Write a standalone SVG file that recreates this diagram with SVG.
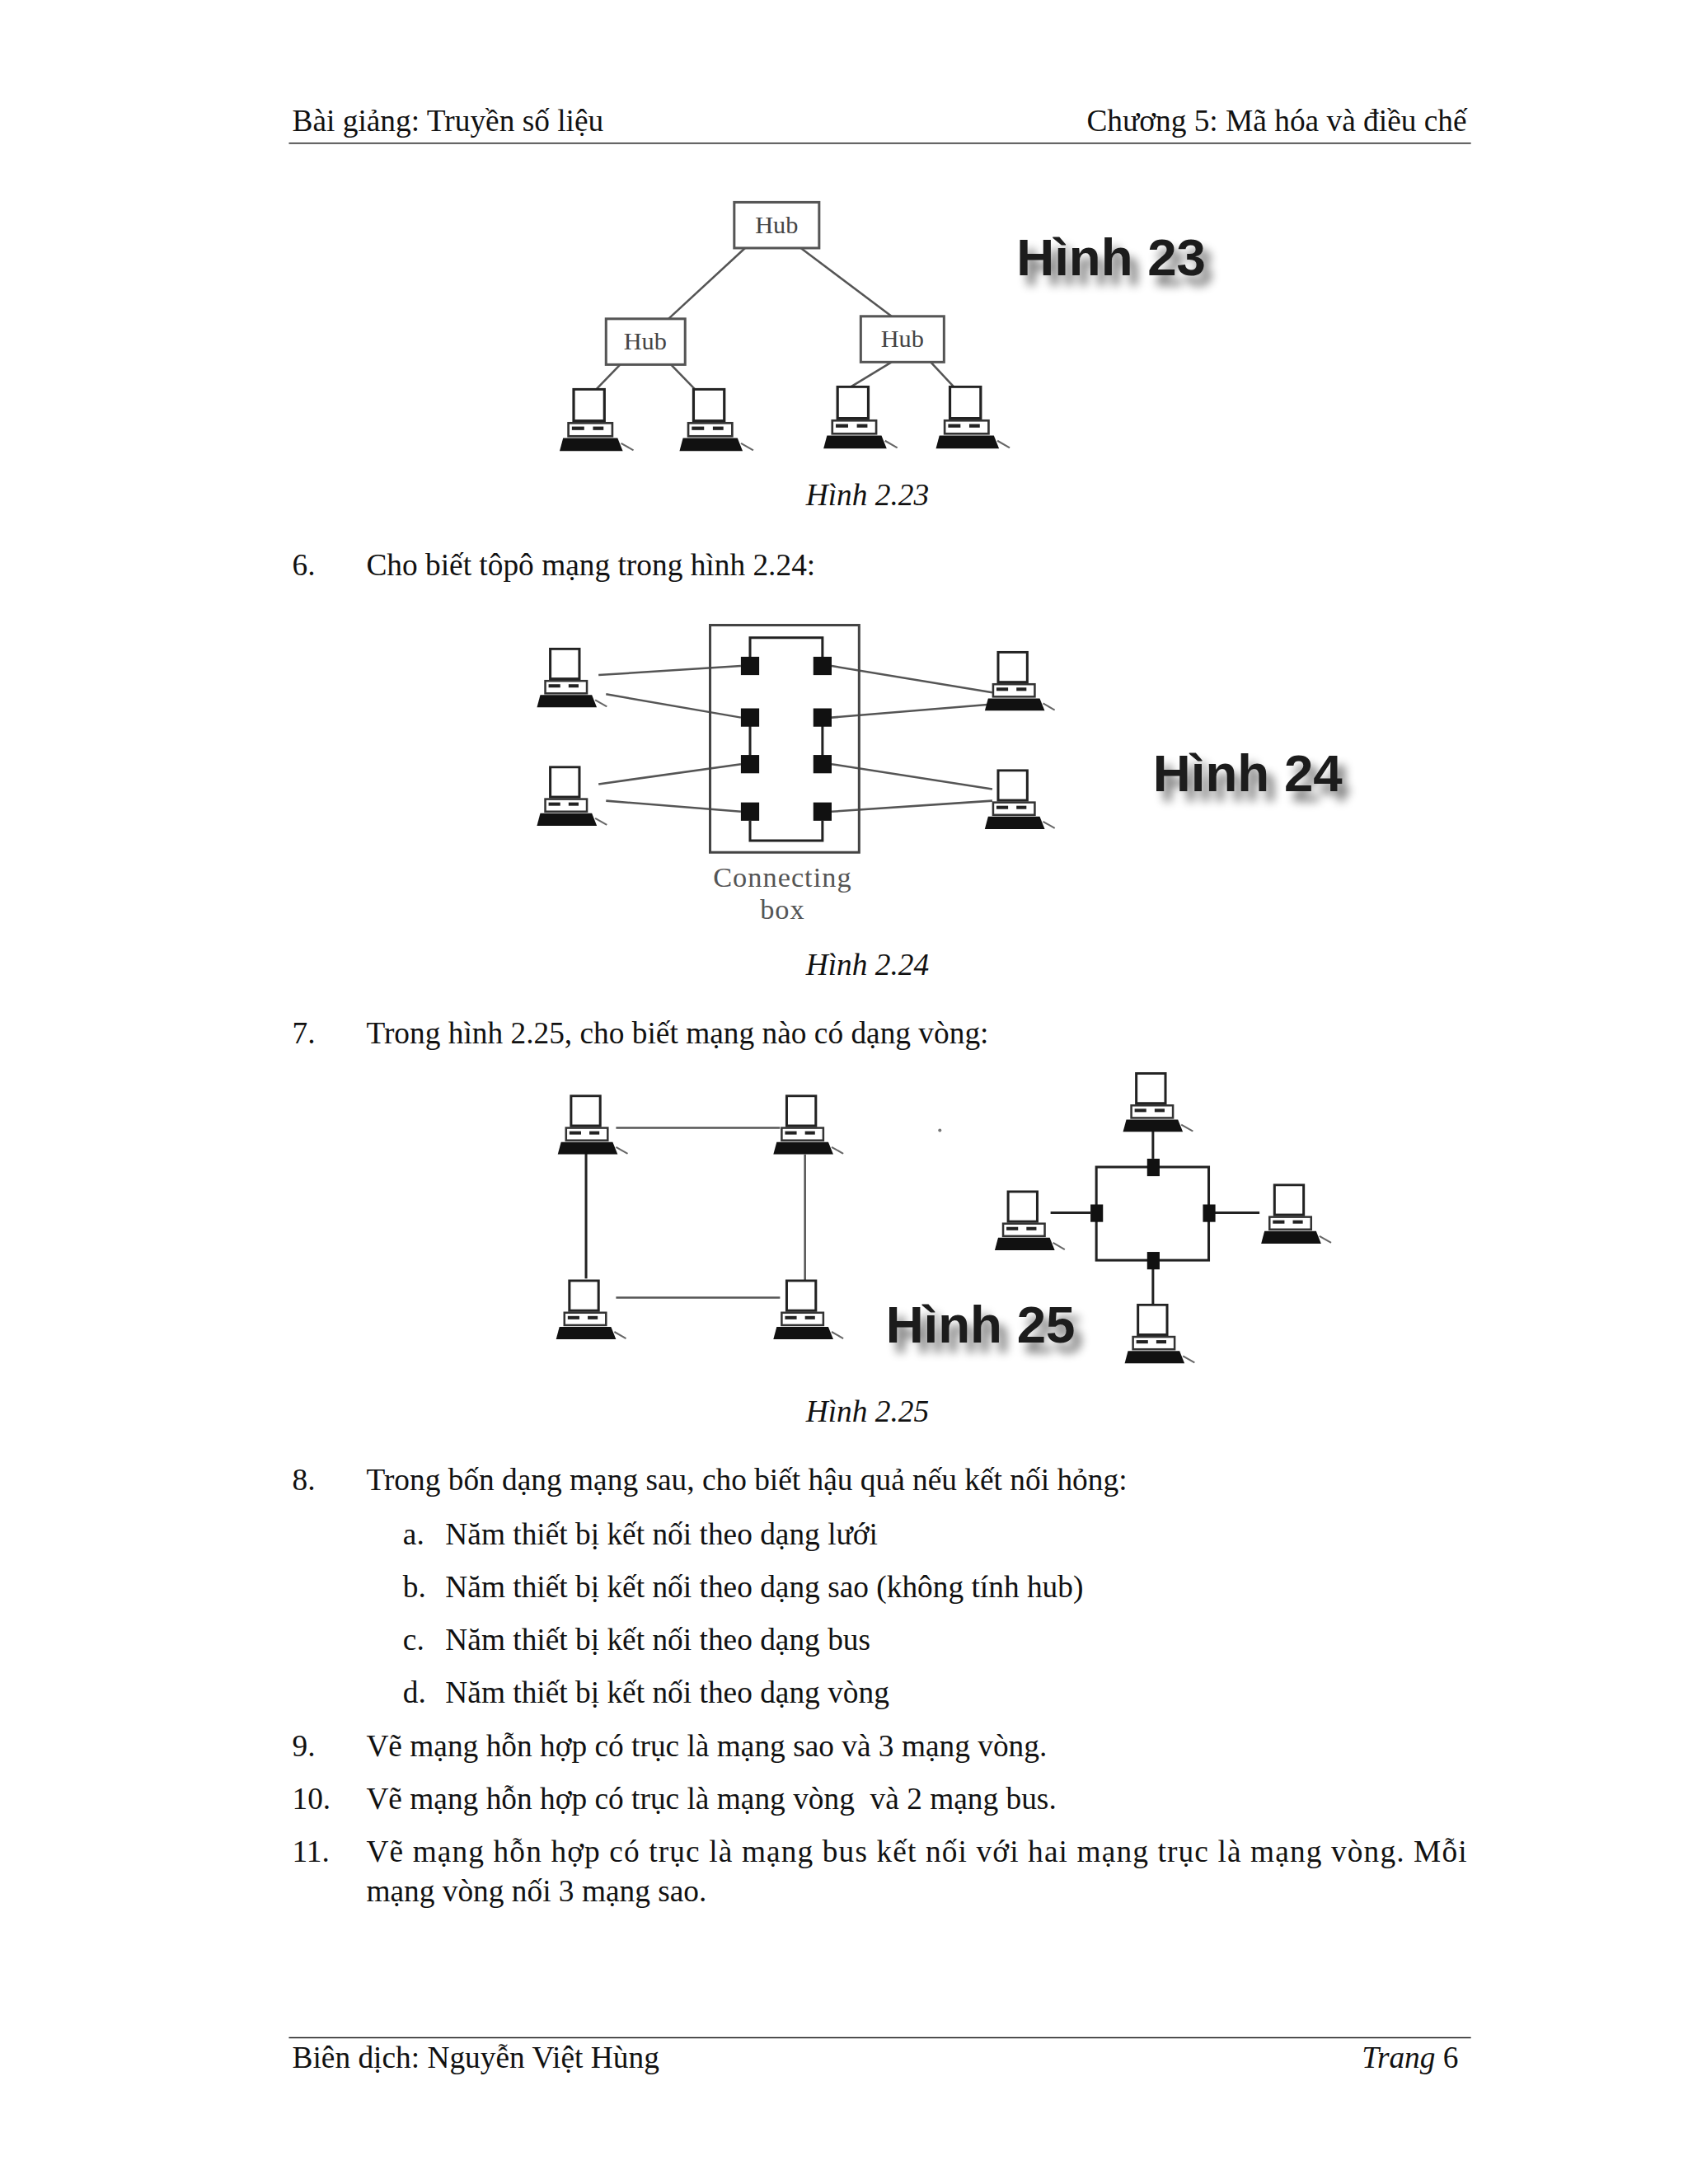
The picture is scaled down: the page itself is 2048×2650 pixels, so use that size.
<svg xmlns="http://www.w3.org/2000/svg" xmlns:xlink="http://www.w3.org/1999/xlink" width="2048" height="2650" viewBox="0 0 2048 2650">
<style>
.t{font-family:"Liberation Serif","Times New Roman",serif;font-size:37px;fill:#111}
.i{font-style:italic}
.lbl{font-family:"Liberation Sans",Arial,sans-serif;font-weight:bold;font-size:63px;fill:#1a1a1a;filter:url(#shadow)}
.hub{fill:#fff;stroke:#555;stroke-width:3}
.hubt{font-family:"Liberation Serif",serif;font-size:30px;fill:#444;text-anchor:middle}
.ln{stroke:#555;stroke-width:2.5;fill:none}
.dk{stroke:#222;stroke-width:3;fill:none}
.sq{fill:#111}
.rule{stroke:#222;stroke-width:1.5}
</style>
<defs>
<filter id="shadow" x="-20%" y="-50%" width="140%" height="200%">
<feGaussianBlur in="SourceAlpha" stdDeviation="6" result="b"/>
<feOffset in="b" dx="9" dy="12" result="o"/>
<feComponentTransfer in="o" result="s"><feFuncA type="linear" slope="0.55"/></feComponentTransfer>
<feMerge><feMergeNode in="s"/><feMergeNode in="SourceGraphic"/></feMerge>
</filter>
<symbol id="pc" viewBox="0 0 90 72">
<rect x="20" y="1.5" width="35" height="36" fill="#fff" stroke="#222" stroke-width="3"/>
<rect x="14" y="40" width="50" height="15" fill="#fff" stroke="#333" stroke-width="2.5"/>
<rect x="18" y="44" width="14" height="4" fill="#222"/>
<rect x="42" y="44" width="12" height="4" fill="#222"/>
<polygon points="4,72 8,57 70,57 76,72" fill="#111"/>
<line x1="74" y1="63" x2="88" y2="71" stroke="#666" stroke-width="2"/>
</symbol>
</defs>
<rect width="2048" height="2650" fill="#fff"/>
<g transform="scale(1.01)">
<g id="header">
<text class="t" x="351" y="157">Bài giảng: Truyền số liệu</text>
<text class="t" x="1762" y="157" text-anchor="end">Chương 5: Mã hóa và điều chế</text>
<line class="rule" x1="347" y1="172" x2="1767" y2="172"/>
</g>

<g id="connectors23">
<line class="ln" x1="895" y1="298" x2="803" y2="383"/>
<line class="ln" x1="962" y1="298" x2="1071" y2="380"/>
<line class="ln" x1="745" y1="438" x2="716" y2="468"/>
<line class="ln" x1="806" y1="438" x2="837" y2="470"/>
<line class="ln" x1="1071" y1="435" x2="1020" y2="466"/>
<line class="ln" x1="1118" y1="435" x2="1146" y2="465"/>
</g>
<g id="hub-top"><rect class="hub" x="882" y="243" width="102" height="55"/><text class="hubt" x="933" y="280">Hub</text></g>
<g id="hub-left"><rect class="hub" x="728" y="383" width="95" height="55"/><text class="hubt" x="775" y="420">Hub</text></g>
<g id="hub-right"><rect class="hub" x="1034" y="380" width="100" height="55"/><text class="hubt" x="1084" y="417">Hub</text></g>
<g id="pc23-1"><use xlink:href="#pc" x="668" y="466" width="95" height="76"/></g>
<g id="pc23-2"><use xlink:href="#pc" x="812" y="466" width="95" height="76"/></g>
<g id="pc23-3"><use xlink:href="#pc" x="985" y="463" width="95" height="76"/></g>
<g id="pc23-4"><use xlink:href="#pc" x="1120" y="463" width="95" height="76"/></g>
<g id="label23"><text class="lbl" x="1221" y="331">Hình 23</text></g>
<text class="t i" x="1042" y="607" text-anchor="middle">Hình 2.23</text>

<text class="t" x="351" y="691">6.</text>
<text class="t" x="440" y="691">Cho biết tôpô mạng trong hình 2.24:</text>

<g id="connectors24">
<line class="ln" x1="719" y1="811" x2="890" y2="800"/>
<line class="ln" x1="728" y1="834" x2="890" y2="862"/>
<line class="ln" x1="719" y1="942" x2="890" y2="918"/>
<line class="ln" x1="728" y1="962" x2="890" y2="975"/>
<line class="ln" x1="999" y1="800" x2="1192" y2="832"/>
<line class="ln" x1="999" y1="862" x2="1192" y2="846"/>
<line class="ln" x1="999" y1="918" x2="1192" y2="948"/>
<line class="ln" x1="999" y1="975" x2="1192" y2="962"/>
<path class="dk" d="M901,789 V766 H988 V789"/>
<path class="dk" d="M901,986 V1010 H988 V986"/>
<line class="dk" x1="901" y1="862" x2="901" y2="918"/>
<line class="dk" x1="988" y1="862" x2="988" y2="918"/>
</g>
<g id="connecting-box">
<rect x="853" y="751" width="179" height="273" fill="none" stroke="#444" stroke-width="3"/>
<rect class="sq" x="890" y="789" width="22" height="22"/>
<rect class="sq" x="977" y="789" width="22" height="22"/>
<rect class="sq" x="890" y="851" width="22" height="22"/>
<rect class="sq" x="977" y="851" width="22" height="22"/>
<rect class="sq" x="890" y="907" width="22" height="22"/>
<rect class="sq" x="977" y="907" width="22" height="22"/>
<rect class="sq" x="890" y="964" width="22" height="22"/>
<rect class="sq" x="977" y="964" width="22" height="22"/>
<text class="t" x="940" y="1065" text-anchor="middle" style="fill:#555;font-size:34px;letter-spacing:1px">Connecting</text>
<text class="t" x="940" y="1104" text-anchor="middle" style="fill:#555;font-size:34px;letter-spacing:1px">box</text>
</g>
<g id="pc24-1"><use xlink:href="#pc" x="641" y="778" width="90" height="72"/></g>
<g id="pc24-2"><use xlink:href="#pc" x="641" y="920" width="90" height="72"/></g>
<g id="pc24-3"><use xlink:href="#pc" x="1179" y="782" width="90" height="72"/></g>
<g id="pc24-4"><use xlink:href="#pc" x="1179" y="924" width="90" height="72"/></g>
<g id="label24"><text class="lbl" x="1385" y="950">Hình 24</text></g>
<text class="t i" x="1042" y="1171" text-anchor="middle">Hình 2.24</text>

<text class="t" x="351" y="1253">7.</text>
<text class="t" x="440" y="1253">Trong hình 2.25, cho biết mạng nào có dạng vòng:</text>

<g id="connectors25">
<line class="ln" x1="740" y1="1355" x2="937" y2="1355"/>
<line class="dk" x1="704" y1="1385" x2="704" y2="1536"/>
<line class="ln" x1="967" y1="1387" x2="967" y2="1538"/>
<line class="ln" x1="740" y1="1559" x2="937" y2="1559"/>
<rect class="dk" x="1317" y="1402" width="135" height="112"/>
<line class="dk" x1="1385" y1="1358" x2="1385" y2="1392"/>
<line class="dk" x1="1262" y1="1457" x2="1310" y2="1457"/>
<line class="dk" x1="1459" y1="1457" x2="1513" y2="1457"/>
<line class="dk" x1="1385" y1="1524" x2="1385" y2="1568"/>
</g>
<g id="ring-nodes">
<rect class="sq" x="1378" y="1392" width="15" height="21"/>
<rect class="sq" x="1310" y="1447" width="15" height="21"/>
<rect class="sq" x="1445" y="1447" width="15" height="21"/>
<rect class="sq" x="1378" y="1504" width="15" height="21"/>
</g>
<g id="pc25-1"><use xlink:href="#pc" x="666" y="1315" width="90" height="72"/></g>
<g id="pc25-2"><use xlink:href="#pc" x="925" y="1315" width="90" height="72"/></g>
<g id="pc25-3"><use xlink:href="#pc" x="664" y="1537" width="90" height="72"/></g>
<g id="pc25-4"><use xlink:href="#pc" x="925" y="1537" width="90" height="72"/></g>
<g id="pc25-5"><use xlink:href="#pc" x="1345" y="1288" width="90" height="72"/></g>
<g id="pc25-6"><use xlink:href="#pc" x="1191" y="1430" width="90" height="72"/></g>
<g id="pc25-7"><use xlink:href="#pc" x="1511" y="1422" width="90" height="72"/></g>
<g id="pc25-8"><use xlink:href="#pc" x="1347" y="1566" width="90" height="72"/></g>
<circle cx="1129" cy="1358" r="2" fill="#777"/>
<g id="label25"><text class="lbl" x="1064" y="1613">Hình 25</text></g>
<text class="t i" x="1042" y="1708" text-anchor="middle">Hình 2.25</text>

<g id="questions">
<text class="t" x="351" y="1790">8.</text>
<text class="t" x="440" y="1790">Trong bốn dạng mạng sau, cho biết hậu quả nếu kết nối hỏng:</text>
<text class="t" x="484" y="1855">a.</text>
<text class="t" x="535" y="1855">Năm thiết bị kết nối theo dạng lưới</text>
<text class="t" x="484" y="1919">b.</text>
<text class="t" x="535" y="1919">Năm thiết bị kết nối theo dạng sao (không tính hub)</text>
<text class="t" x="484" y="1982">c.</text>
<text class="t" x="535" y="1982">Năm thiết bị kết nối theo dạng bus</text>
<text class="t" x="484" y="2046">d.</text>
<text class="t" x="535" y="2046">Năm thiết bị kết nối theo dạng vòng</text>
<text class="t" x="351" y="2110">9.</text>
<text class="t" x="440" y="2110">Vẽ mạng hỗn hợp có trục là mạng sao và 3 mạng vòng.</text>
<text class="t" x="351" y="2173">10.</text>
<text class="t" x="440" y="2173" xml:space="preserve">Vẽ mạng hỗn hợp có trục là mạng vòng  và 2 mạng bus.</text>
<text class="t" x="351" y="2237">11.</text>
<text class="t" x="440" y="2237" textLength="1322" lengthAdjust="spacing">Vẽ mạng hỗn hợp có trục là mạng bus kết nối với hai mạng trục là mạng vòng. Mỗi</text>
<text class="t" x="440" y="2284">mạng vòng nối 3 mạng sao.</text>
</g>

<g id="footer">
<line class="rule" x1="347" y1="2448" x2="1767" y2="2448"/>
<text class="t" x="351" y="2484">Biên dịch: Nguyễn Việt Hùng</text>
<text class="t" x="1752" y="2484" text-anchor="end"><tspan class="i">Trang</tspan> 6</text>
</g>
</g>
</svg>
